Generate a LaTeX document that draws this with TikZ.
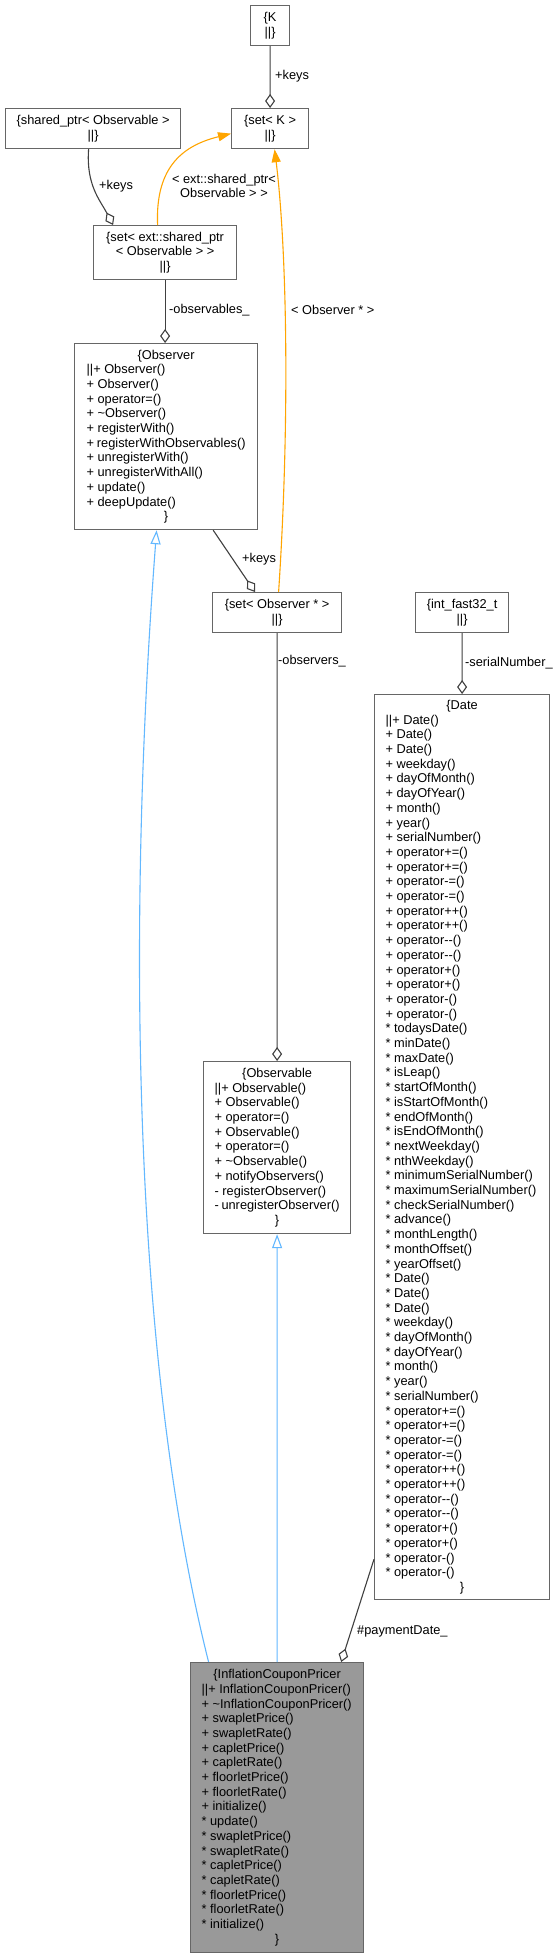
\documentclass[tikz,border=0pt]{standalone}
\usepackage{fontspec}
\setmainfont{Liberation Sans}
\usetikzlibrary{arrows.meta}
\definecolor{boxgray}{HTML}{666666}
\definecolor{edgegray}{HTML}{404040}
\definecolor{inhblue}{HTML}{63B8FF}
\definecolor{tmplorange}{HTML}{FFA500}
\definecolor{focusfill}{HTML}{999999}
\newcommand\Ll[1]{\hbox to\hsize{#1\hfil}}
\newcommand\Cl[1]{\hbox to\hsize{\hfil#1\hfil}}
\newcommand\ubox[2]{\vbox{\hsize=#1\baselineskip=14.7bp\lineskiplimit=-20bp\parindent=0pt #2}}
\begin{document}
\begin{tikzpicture}[x=1bp,y=-1bp,
 umlbox/.style={draw=boxgray, line width=1.2bp, fill=white, inner sep=0pt, anchor=north west, font=\fontsize{12.8bp}{14.7bp}\selectfont},
 lbl/.style={inner sep=0pt, anchor=west, font=\fontsize{12.8bp}{14.7bp}\selectfont, text=black},
 assoc/.style={draw=edgegray, line width=1.1bp, -{Diamond[open,length=14bp,width=10bp]}},
 tmpl/.style={draw=tmplorange, line width=1.1bp, -{Triangle[length=13bp,width=9bp]}},
 inh/.style={draw=inhblue, line width=1.1bp, -{Triangle[open,length=14bp,width=10bp]}},
]
\fill[white] (0,0) rectangle (559,1957);
\useasboundingbox (0,0) rectangle (559,1957);

% boxes
\node[umlbox, minimum width=39bp, minimum height=40bp] (K) at (250,5)
 {\ubox{31bp}{\Cl{\{K}\Cl{||\}}}};
\node[umlbox, minimum width=77bp, minimum height=40bp] (setK) at (231,108)
 {\ubox{69bp}{\Cl{\{set< K >}\Cl{||\}}}};
\node[umlbox, minimum width=175bp, minimum height=40bp] (shp) at (5,108)
 {\ubox{165bp}{\Cl{\{shared\_ptr< Observable >}\Cl{||\}}}};
\node[umlbox, minimum width=143bp, minimum height=54bp] (setext) at (93,225)
 {\ubox{133bp}{\Cl{\{set< ext::shared\_ptr}\Cl{< Observable > >}\Cl{||\}}}};
\node[umlbox, minimum width=183bp, minimum height=186bp] (observer) at (74,343)
 {\ubox{159bp}{%
 \Cl{\{Observer}
 \Ll{||+ Observer()}
 \Ll{+ Observer()}
 \Ll{+ operator=()}
 \Ll{+ \textasciitilde Observer()}
 \Ll{+ registerWith()}
 \Ll{+ registerWithObservables()}
 \Ll{+ unregisterWith()}
 \Ll{+ unregisterWithAll()}
 \Ll{+ update()}
 \Ll{+ deepUpdate()}
 \Cl{\}}}};
\node[umlbox, minimum width=129bp, minimum height=40bp] (setobs) at (212,592)
 {\ubox{119bp}{\Cl{\{set< Observer * >}\Cl{||\}}}};
\node[umlbox, minimum width=93bp, minimum height=40bp] (intf) at (415,592)
 {\ubox{83bp}{\Cl{\{int\_fast32\_t}\Cl{||\}}}};
\node[umlbox, minimum width=147bp, minimum height=172bp] (observable) at (203,1061)
 {\ubox{125bp}{%
 \Cl{\{Observable}
 \Ll{||+ Observable()}
 \Ll{+ Observable()}
 \Ll{+ operator=()}
 \Ll{+ Observable()}
 \Ll{+ operator=()}
 \Ll{+ \textasciitilde Observable()}
 \Ll{+ notifyObservers()}
 \Ll{- registerObserver()}
 \Ll{- unregisterObserver()}
 \Cl{\}}}};
\node[umlbox, minimum width=175bp, minimum height=905bp] (date) at (374,694)
 {\ubox{153bp}{%
 \Cl{\{Date}
 \Ll{||+ Date()}
 \Ll{+ Date()}
 \Ll{+ Date()}
 \Ll{+ weekday()}
 \Ll{+ dayOfMonth()}
 \Ll{+ dayOfYear()}
 \Ll{+ month()}
 \Ll{+ year()}
 \Ll{+ serialNumber()}
 \Ll{+ operator+=()}
 \Ll{+ operator+=()}
 \Ll{+ operator-=()}
 \Ll{+ operator-=()}
 \Ll{+ operator++()}
 \Ll{+ operator++()}
 \Ll{+ operator-{}-()}
 \Ll{+ operator-{}-()}
 \Ll{+ operator+()}
 \Ll{+ operator+()}
 \Ll{+ operator-()}
 \Ll{+ operator-()}
 \Ll{* todaysDate()}
 \Ll{* minDate()}
 \Ll{* maxDate()}
 \Ll{* isLeap()}
 \Ll{* startOfMonth()}
 \Ll{* isStartOfMonth()}
 \Ll{* endOfMonth()}
 \Ll{* isEndOfMonth()}
 \Ll{* nextWeekday()}
 \Ll{* nthWeekday()}
 \Ll{* minimumSerialNumber()}
 \Ll{* maximumSerialNumber()}
 \Ll{* checkSerialNumber()}
 \Ll{* advance()}
 \Ll{* monthLength()}
 \Ll{* monthOffset()}
 \Ll{* yearOffset()}
 \Ll{* Date()}
 \Ll{* Date()}
 \Ll{* Date()}
 \Ll{* weekday()}
 \Ll{* dayOfMonth()}
 \Ll{* dayOfYear()}
 \Ll{* month()}
 \Ll{* year()}
 \Ll{* serialNumber()}
 \Ll{* operator+=()}
 \Ll{* operator+=()}
 \Ll{* operator-=()}
 \Ll{* operator-=()}
 \Ll{* operator++()}
 \Ll{* operator++()}
 \Ll{* operator-{}-()}
 \Ll{* operator-{}-()}
 \Ll{* operator+()}
 \Ll{* operator+()}
 \Ll{* operator-()}
 \Ll{* operator-()}
 \Cl{\}}}};
\node[umlbox, fill=focusfill, minimum width=173bp, minimum height=290bp] (icp) at (190,1662)
 {\ubox{151bp}{%
 \Cl{\{InflationCouponPricer}
 \Ll{||+ InflationCouponPricer()}
 \Ll{+ \textasciitilde InflationCouponPricer()}
 \Ll{+ swapletPrice()}
 \Ll{+ swapletRate()}
 \Ll{+ capletPrice()}
 \Ll{+ capletRate()}
 \Ll{+ floorletPrice()}
 \Ll{+ floorletRate()}
 \Ll{+ initialize()}
 \Ll{* update()}
 \Ll{* swapletPrice()}
 \Ll{* swapletRate()}
 \Ll{* capletPrice()}
 \Ll{* capletRate()}
 \Ll{* floorletPrice()}
 \Ll{* floorletRate()}
 \Ll{* initialize()}
 \Cl{\}}}};

% connectors
\draw[assoc] (K.south) -- (setK.north);
\draw[assoc] ([xshift=-4.5bp]shp.south) .. controls (86,185) and (100,200) .. ([xshift=-52bp]setext.north);
\draw[tmpl] ([xshift=-7.5bp]setext.north) .. controls (155,165) and (185,145) .. ([yshift=-5bp]setK.west);
\draw[tmpl] ([xshift=1.5bp]setobs.north) .. controls (290,420) and (287,250) .. ([xshift=4.5bp]setK.south);
\draw[assoc] (setext.south) -- (setext.south |- observer.north);
\draw[assoc] ([xshift=-45bp]observer.south east) -- ([xshift=43bp]setobs.north west);
\draw[assoc] (setobs.south) -- (observable.north);
\draw[assoc] (intf.south) -- (date.north);
\draw[assoc] ([yshift=41bp]date.south west) -- ([xshift=-23bp]icp.north east);
\draw[inh] ([xshift=-68.5bp]icp.north) .. controls (133,1362) and (126.4,929) .. ([xshift=-9.5bp]observer.south);
\draw[inh] (icp.north) -- (observable.south);

% labels
\node[lbl] (l1) at (275,76) {+keys};
\node[lbl] (l2) at (99,186) {+keys};
\node[lbl, anchor=center] (l3) at (224,186) {\ubox{110bp}{\Cl{< ext::shared\_ptr<}\Cl{Observable > >}}};
\node[lbl] (l4) at (291,310) {< Observer * >};
\node[lbl] (l5) at (169,310) {-observables\_};
\node[lbl] (l6) at (242,559) {+keys};
\node[lbl] (l7) at (278,661) {-observers\_};
\node[lbl] (l8) at (465,663) {-serialNumber\_};
\node[lbl] (l9) at (357,1631) {\#paymentDate\_};
\end{tikzpicture}
\end{document}
